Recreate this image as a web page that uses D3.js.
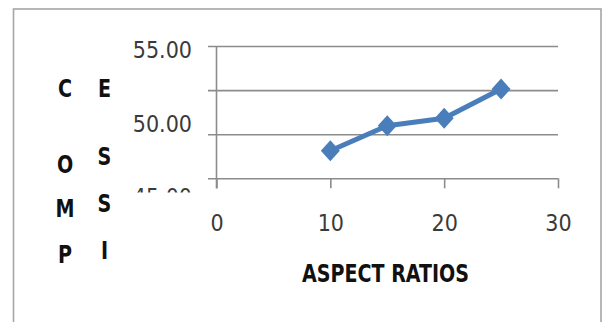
<!DOCTYPE html>
<html>
<head>
<meta charset="utf-8">
<script src="https://cdn.jsdelivr.net/npm/d3@7"></script>
<style>
  html, body { margin: 0; padding: 0; background: #fff; }
  svg { display: block; }
</style>
</head>
<body>
<svg id="chart" width="602" height="322"></svg>
<script>
// Compression vs aspect ratio
const aspectRatios = [10, 15, 20, 25];
const compression = [49.06, 50.48, 50.90, 52.56];
const xTickValues = [0, 10, 20, 30];
const gridValues = [47.5, 50, 52.5, 55];
const yLabelValues = [45, 50, 55];
const yTitleCol1 = ["C", "O", "M", "P"];
const yTitleCol2 = ["E", "S", "S", "I"];
const xTitle = "ASPECT RATIOS";

const svg = d3.select("#chart");
const tickFont = "'DejaVu Sans Condensed', 'Liberation Sans Narrow', sans-serif";
const boldFont = "'Liberation Sans Narrow', 'DejaVu Sans Condensed', sans-serif";

// outer frame
svg.append("rect")
  .attr("x", 13.5).attr("y", 9)
  .attr("width", 587.5).attr("height", 330)
  .attr("fill", "none").attr("stroke", "#a6a6a6").attr("stroke-width", 1.6);

const x = d3.scaleLinear().domain([0, 30]).range([216.5, 558]);
const y = d3.scaleLinear().domain([47.5, 55]).range([178.3, 46]);
const yLabel = d3.scaleLinear().domain([45, 55]).range([196.5, 49]);

// horizontal gridlines, with outside tick stubs
const grid = svg.append("g")
  .attr("transform", `translate(${x(30)},0)`)
  .call(d3.axisLeft(y).tickValues(gridValues).tickSize(x(30) - 208).tickFormat(""));
grid.select(".domain").remove();
grid.selectAll("line").attr("stroke", "#8c8c8c").attr("stroke-width", 1.6);

// vertical axis line
svg.append("line")
  .attr("x1", x(0)).attr("x2", x(0))
  .attr("y1", y(55)).attr("y2", 188.5)
  .attr("stroke", "#8c8c8c").attr("stroke-width", 1.6);

// value labels on the left, the lowest one is cut off at the bottom of the plot
svg.append("defs").append("clipPath").attr("id", "ylab-clip")
  .append("rect").attr("x", -100).attr("y", 20).attr("width", 110).attr("height", 172.5);
const yAxis = svg.append("g")
  .attr("clip-path", "url(#ylab-clip)")
  .attr("transform", "translate(192,0)")
  .call(d3.axisLeft(yLabel).tickValues(yLabelValues).tickSize(0).tickPadding(0)
    .tickFormat(d3.format(".2f")));
yAxis.select(".domain").remove();
yAxis.selectAll("text")
  .attr("font-family", tickFont).attr("font-size", 23)
  .attr("fill", "#3a3a3a").attr("dy", "0.36em");

// bottom axis
const xAxis = svg.append("g")
  .attr("transform", `translate(0,${y(47.5)})`)
  .call(d3.axisBottom(x).tickValues(xTickValues).tickSizeInner(10).tickSizeOuter(0).tickPadding(0));
xAxis.select(".domain").remove();
xAxis.selectAll("line").attr("stroke", "#8c8c8c").attr("stroke-width", 1.6);
xAxis.selectAll("text")
  .attr("font-family", tickFont).attr("font-size", 23)
  .attr("fill", "#3a3a3a").attr("y", 52.5).attr("dy", 0);

// series line
const pts = aspectRatios.map((a, i) => [a, compression[i]]);
svg.append("path")
  .datum(pts)
  .attr("fill", "none").attr("stroke", "#4a7ebb")
  .attr("stroke-width", 5).attr("stroke-linejoin", "round")
  .attr("d", d3.line().x(d => x(d[0])).y(d => y(d[1])));

// diamond markers
const diamond = {
  draw(ctx, size) {
    const w = 9.5, h = 10.5;
    ctx.moveTo(0, -h); ctx.lineTo(w, 0); ctx.lineTo(0, h); ctx.lineTo(-w, 0); ctx.closePath();
  }
};
svg.selectAll(".marker").data(pts).enter().append("path")
  .attr("class", "marker")
  .attr("transform", d => `translate(${x(d[0])},${y(d[1])})`)
  .attr("d", d3.symbol().type(diamond))
  .attr("fill", "#4a7ebb");

// axis titles
svg.append("text")
  .attr("x", 385.5).attr("y", 281.5)
  .attr("text-anchor", "middle")
  .attr("font-family", boldFont).attr("font-weight", "bold").attr("font-size", 25)
  .attr("textLength", 167).attr("lengthAdjust", "spacingAndGlyphs")
  .attr("fill", "#111").text(xTitle);

// vertical title, set as two columns of narrow letters
const col1Y = [96.5, 173, 216.5, 263];
const col2Y = [96.5, 165, 211.5, 259];
function letterColumn(cls, letters, cx, ys) {
  svg.selectAll("." + cls).data(letters).enter().append("text")
    .attr("class", cls)
    .attr("transform", (d, i) => `translate(${cx},${ys[i]}) scale(0.85,1)`)
    .attr("text-anchor", "middle")
    .attr("font-family", boldFont).attr("font-weight", "bold").attr("font-size", 25)
    .attr("fill", "#111").text(d => d);
}
letterColumn("yt1", yTitleCol1, 65, col1Y);
letterColumn("yt2", yTitleCol2, 104.5, col2Y);
</script>
</body>
</html>
